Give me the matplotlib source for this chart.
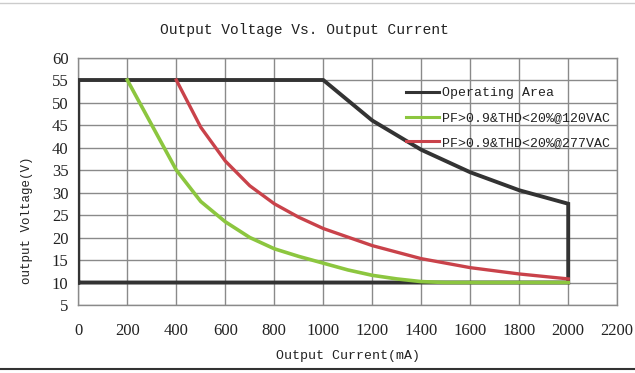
import matplotlib
matplotlib.use("Agg")
import matplotlib.pyplot as plt
from matplotlib.lines import Line2D

# Operating area boundary (closed outline)
area_current = [0, 0, 1000, 1200, 1400, 1600, 1800, 2000, 2000, 0]
area_voltage = [10, 55, 55, 46, 39.5, 34.5, 30.5, 27.5, 10, 10]

# PF>0.9 & THD<20% @120VAC
low_current = [200, 300, 400, 500, 600, 700, 800, 900, 1000, 1100, 1200, 1300, 1400, 1500, 2000]
low_voltage = [55, 45, 35, 28, 23.5, 20, 17.5, 15.8, 14.3, 12.8, 11.6, 10.8, 10.2, 10, 10]

# PF>0.9 & THD<20% @277VAC
high_current = [400, 500, 600, 700, 800, 900, 1000, 1200, 1400, 1600, 1800, 2000]
high_voltage = [55, 44.5, 37, 31.5, 27.5, 24.5, 22, 18.2, 15.3, 13.3, 11.9, 10.8]

x_ticks = list(range(0, 2201, 200))
y_ticks = list(range(5, 61, 5))

mono = ["Liberation Mono", "DejaVu Sans Mono"]
num_font = ["Liberation Serif", "DejaVu Serif"]

fig = plt.figure(figsize=(6.35, 3.73), dpi=100)
ax = fig.add_axes([0.1233, 0.1823, 0.8487, 0.6635])

ax.plot(area_current, area_voltage, color="#333333", lw=2.8, label="Operating Area",
        solid_joinstyle="miter", zorder=3)
ax.plot(low_current, low_voltage, color="#8cc63f", lw=2.6, label="PF>0.9&THD<20%@120VAC", zorder=4)
ax.plot(high_current, high_voltage, color="#c9424a", lw=2.4, label="PF>0.9&THD<20%@277VAC", zorder=4)

ax.set_xlim(0, 2200)
ax.set_ylim(5, 60)
ax.set_xticks(x_ticks)
ax.set_yticks(y_ticks)
ax.grid(True, color="#8a8a8a", lw=1.0)
ax.set_axisbelow(True)
for s in ax.spines.values():
    s.set_color("#8a8a8a")
    s.set_linewidth(1.0)
ax.tick_params(axis="x", length=0, pad=13)
ax.tick_params(axis="y", length=0, pad=7)
for lab in ax.get_xticklabels() + ax.get_yticklabels():
    lab.set_family(num_font)
    lab.set_fontsize(12)
    lab.set_color("#222222")

fig.text(304.5 / 635, 1 - 30 / 373, "Output Voltage Vs. Output Current", family=mono,
         fontsize=10.5, color="#222222", ha="center", va="center")
fig.text(347.5 / 635, 1 - 356 / 373, "Output Current(mA)", family=mono,
         fontsize=9.5, color="#222222", ha="center", va="center")
fig.text(27 / 635, 1 - 220 / 373, "output Voltage(V)", family=mono, rotation=90,
         fontsize=9, color="#222222", ha="center", va="center")

leg = ax.legend(loc="upper left", bbox_to_anchor=(0.608, 0.88), frameon=False,
                prop={"family": mono, "size": 9.5}, handlelength=2.5, handletextpad=0.2,
                labelspacing=0.95, borderpad=0, borderaxespad=0)
for t in leg.get_texts():
    t.set_color("#222222")
for h in leg.legend_handles:
    h.set_linewidth(2.2)

# thin page borders
fig.add_artist(Line2D([0, 1], [0.992, 0.992], color="#cccccc", lw=1, transform=fig.transFigure))
fig.add_artist(Line2D([0, 1], [0.012, 0.012], color="#333333", lw=1.5, transform=fig.transFigure))

fig.savefig("out.png", dpi=100)
